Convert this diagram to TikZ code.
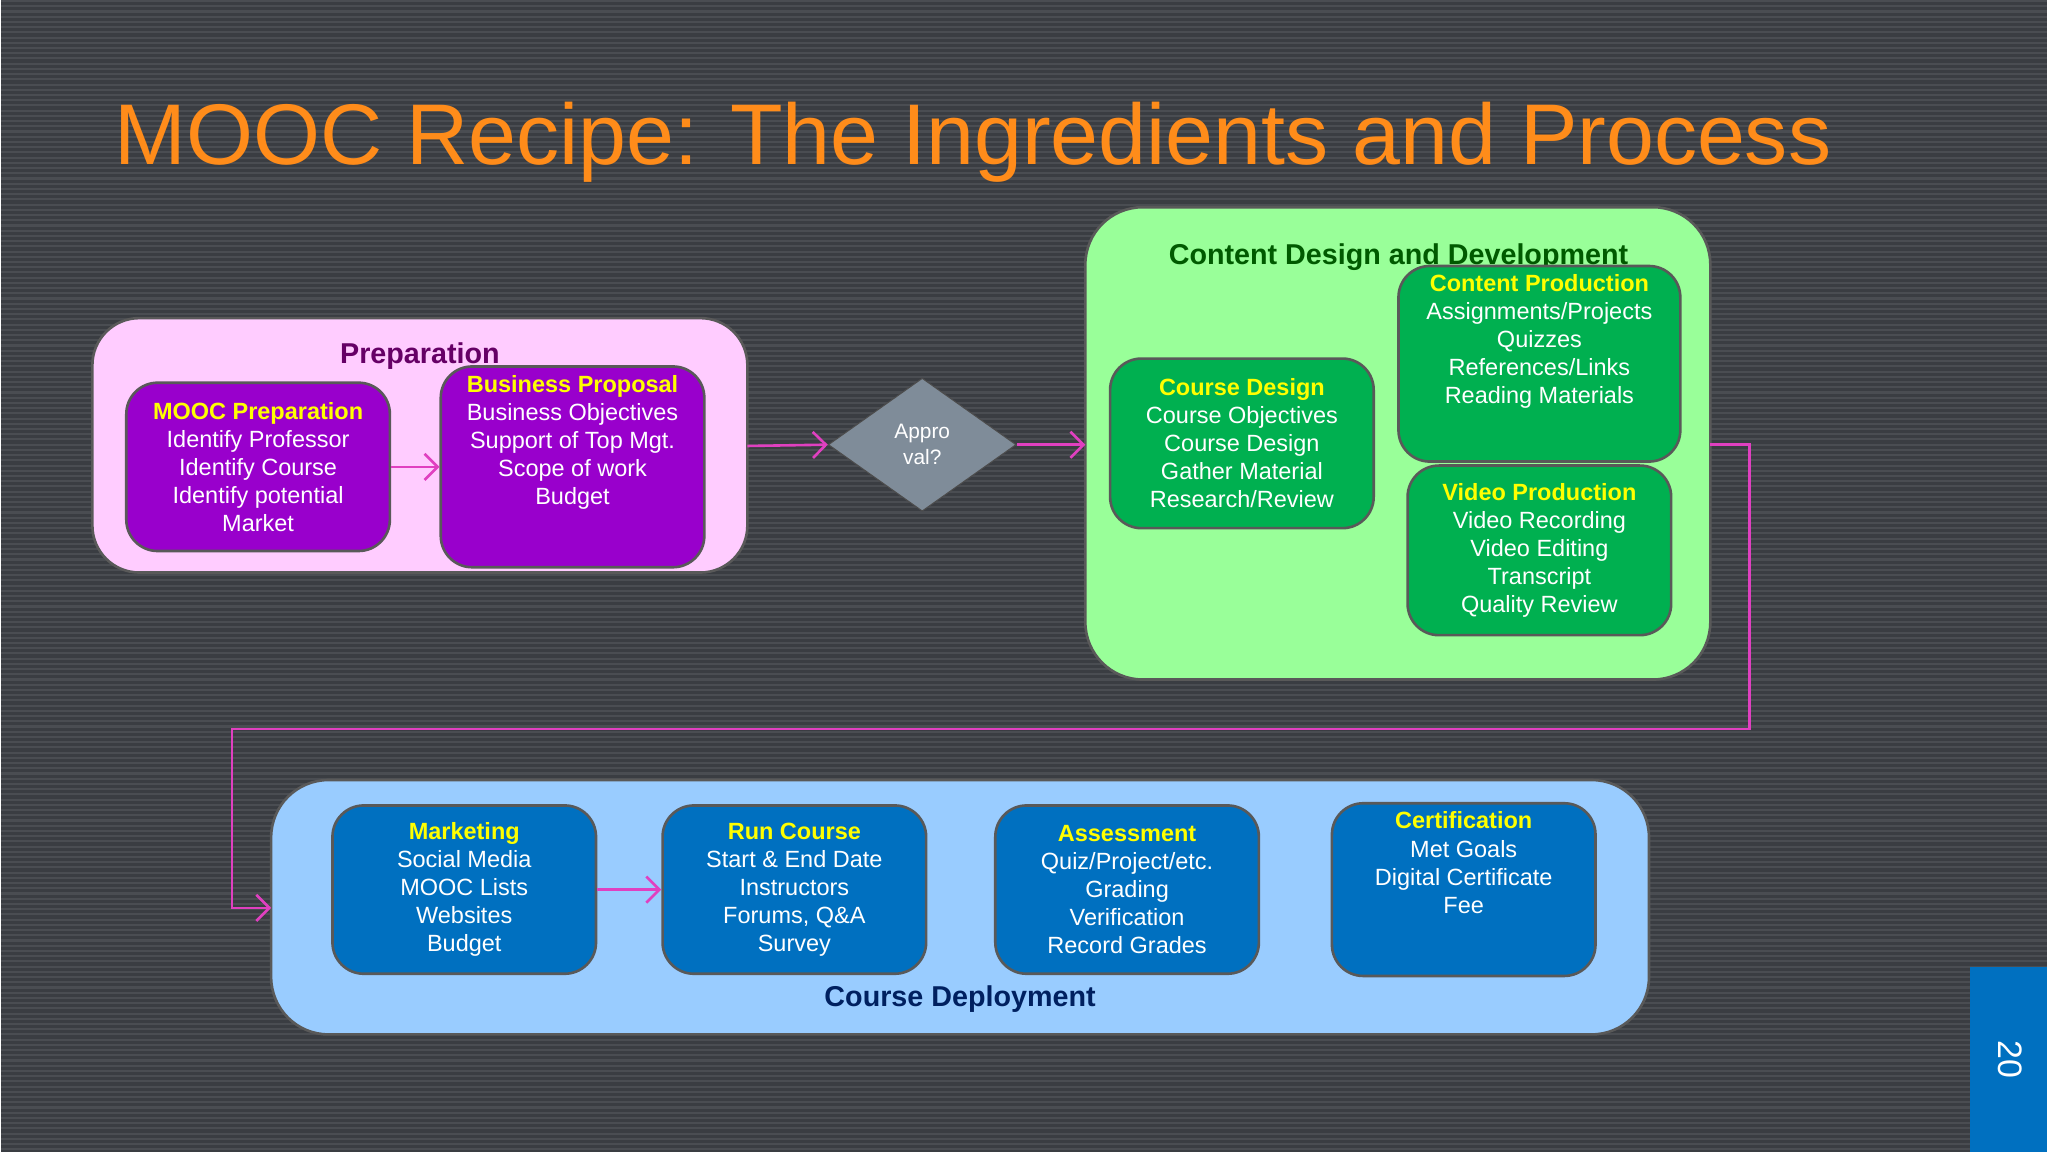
\documentclass[tikz,border=0pt]{standalone}
\usepackage{fontspec}
\setmainfont{Liberation Sans}
\usetikzlibrary{shapes.geometric,arrows.meta}
\definecolor{bg}{HTML}{3A3D42}
\definecolor{stripe}{HTML}{4A4D52}
\definecolor{ttl}{HTML}{FF8C1A}
\definecolor{pinkbg}{HTML}{FFCCFF}
\definecolor{purp}{HTML}{9900CC}
\definecolor{darkpurp}{HTML}{660066}
\definecolor{grnbg}{HTML}{99FF99}
\definecolor{grn}{HTML}{00B050}
\definecolor{dgrn}{HTML}{005A00}
\definecolor{bluebg}{HTML}{99CCFF}
\definecolor{blu}{HTML}{0070C0}
\definecolor{navy}{HTML}{002060}
\definecolor{arr}{HTML}{E040C0}
\definecolor{yel}{HTML}{FFFF00}
\definecolor{dia}{HTML}{7F8C99}
\begin{document}
\begin{tikzpicture}[x=0.5pt,y=-0.5pt,
  box/.style={draw=gray!70!black,line width=1pt,rounded corners=12pt},
  inner/.style={box,text=white,align=center,font=\fontsize{9}{10.75}\selectfont},
  hd/.style={font=\bfseries\color{yel}},
  con/.style={draw=arr,line width=1pt,-{Straight Barb[length=5pt]}}]
\fill[bg] (0,0) rectangle (1568,882);
\foreach \i in {0,...,220}{\draw[stripe,line width=0.8pt] (0,\i*4) -- (1568,\i*4);}
\useasboundingbox (0,0) rectangle (1568,882);
\node[anchor=west,text=ttl,font=\fontsize{33}{36}\selectfont] (title) at (80,108) {MOOC Recipe: The Ingredients and Process};
% Preparation
\draw[box,fill=pinkbg,rounded corners=18pt] (70,243) rectangle (572,438);
\node[text=darkpurp,font=\bfseries\fontsize{11}{13}\selectfont] (prep) at (321,272) {Preparation};
\node[inner,fill=purp,minimum width=101pt,minimum height=64.5pt] (mp) at (197,357) {{\bfseries\color{yel}MOOC Preparation}\\Identify Professor\\Identify Course\\Identify potential\\Market};
\node[inner,fill=purp,minimum width=101pt,minimum height=64.5pt] (bp) at (438,357) {{\bfseries\color{yel}Business Proposal}\\Business Objectives\\Support of Top Mgt.\\Scope of work\\Budget\\[10pt]};
\coordinate (prepR) at (572,341);
% diamond
\node[diamond,fill=dia,draw=gray!60!black,minimum width=72pt,minimum height=51pt,inner sep=0pt,text=white,align=center,font=\fontsize{8}{10}\selectfont] (ap) at (706,340) {Appro\\val?};
% content
\draw[box,fill=grnbg,rounded corners=22pt] (831,158) rectangle (1310,520);
\coordinate (cL) at (831,340);
\coordinate (cR) at (1310,340);
\node[text=dgrn,font=\bfseries\fontsize{11}{13}\selectfont] (ct) at (1071,196) {Content Design and Development};
\node[inner,fill=grn,minimum width=101pt,minimum height=65pt] (cd) at (951,339) {{\bfseries\color{yel}Course Design}\\Course Objectives\\Course Design\\Gather Material\\Research/Review};
\node[inner,fill=grn,minimum width=108pt,minimum height=65pt] (cp) at (1179,278) {{\bfseries\color{yel}Content Production}\\Assignments/Projects\\Quizzes\\References/Links\\Reading Materials\\[8pt]};
\node[inner,fill=grn,minimum width=101pt,minimum height=65pt] (vp) at (1179,421) {{\bfseries\color{yel}Video Production}\\Video Recording\\Video Editing\\Transcript\\Quality Review};
% deployment
\draw[box,fill=bluebg,rounded corners=22pt] (207,597) rectangle (1263,792);
\coordinate (dL) at (207,695);
\node[text=navy,font=\bfseries\fontsize{11}{13}\selectfont] (dt) at (735,765) {Course Deployment};
\node[inner,fill=blu,minimum width=101pt,minimum height=64.5pt] (mk) at (355,681) {{\bfseries\color{yel}Marketing}\\Social Media\\MOOC Lists\\Websites\\Budget};
\node[inner,fill=blu,minimum width=101pt,minimum height=64.5pt] (rc) at (608,681) {{\bfseries\color{yel}Run Course}\\Start \& End Date\\Instructors\\Forums, Q\&A\\Survey};
\node[inner,fill=blu,minimum width=101pt,minimum height=64.5pt] (as) at (863,681) {{\bfseries\color{yel}Assessment}\\Quiz/Project/etc.\\Grading\\Verification\\Record Grades};
\node[inner,fill=blu,minimum width=101pt,minimum height=64.5pt] (cf) at (1121,681) {{\bfseries\color{yel}Certification}\\Met Goals\\Digital Certificate\\Fee\\[10pt]};
% connectors
\draw[con] (mp) -- (bp);
\draw[con] (prepR) -- (ap.west);
\draw[con] (ap.east) -- (cL);
\draw[con] (cR) -- (1340,340) -- (1340,558) -- (177,558) -- (177,695) -- (dL);
\draw[con] (mk) -- (rc);
% page number
\fill[blu] (1509,740) rectangle (1568,882);
\node[text=white,rotate=-90,font=\fontsize{13}{15}\selectfont] (pg) at (1540,811) {20};
\end{tikzpicture}
\end{document}
